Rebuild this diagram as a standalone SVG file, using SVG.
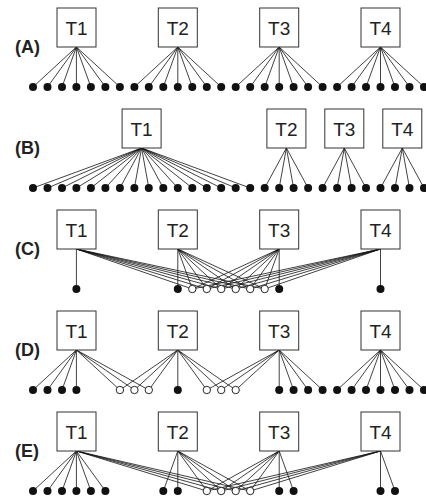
<svg xmlns="http://www.w3.org/2000/svg" width="426" height="500" viewBox="0 0 426 500">
<style>
.box{fill:#fff;stroke:#333;stroke-width:1}
.t{font-family:"Liberation Sans",Arial,sans-serif;font-size:19px;fill:#222;text-anchor:middle}
.lbl{font-family:"Liberation Sans",Arial,sans-serif;font-size:18px;font-weight:bold;fill:#222}
.e line{stroke:#111;stroke-width:0.8}
.f{fill:#111}
.o{fill:#fff;stroke:#111;stroke-width:0.9}
</style>
<rect width="426" height="500" fill="#fff"/>
<!-- Panel A -->
<g id="panelA">
<text class="lbl" x="15" y="53">(A)</text>
<g id="connA" class="e">
<line x1="76.4" y1="47" x2="33" y2="87"/><line x1="76.4" y1="47" x2="47.5" y2="87"/><line x1="76.4" y1="47" x2="62" y2="87"/><line x1="76.4" y1="47" x2="76.4" y2="87"/><line x1="76.4" y1="47" x2="90.9" y2="87"/><line x1="76.4" y1="47" x2="105.4" y2="87"/><line x1="76.4" y1="47" x2="119.9" y2="87"/>
<line x1="177.8" y1="47" x2="134.4" y2="87"/><line x1="177.8" y1="47" x2="148.8" y2="87"/><line x1="177.8" y1="47" x2="163.3" y2="87"/><line x1="177.8" y1="47" x2="177.8" y2="87"/><line x1="177.8" y1="47" x2="192.3" y2="87"/><line x1="177.8" y1="47" x2="206.8" y2="87"/><line x1="177.8" y1="47" x2="221.2" y2="87"/>
<line x1="279.2" y1="47" x2="235.7" y2="87"/><line x1="279.2" y1="47" x2="250.2" y2="87"/><line x1="279.2" y1="47" x2="264.7" y2="87"/><line x1="279.2" y1="47" x2="279.2" y2="87"/><line x1="279.2" y1="47" x2="293.6" y2="87"/><line x1="279.2" y1="47" x2="308.1" y2="87"/><line x1="279.2" y1="47" x2="322.6" y2="87"/>
<line x1="380.5" y1="47" x2="337.1" y2="87"/><line x1="380.5" y1="47" x2="351.6" y2="87"/><line x1="380.5" y1="47" x2="366" y2="87"/><line x1="380.5" y1="47" x2="380.5" y2="87"/><line x1="380.5" y1="47" x2="395" y2="87"/><line x1="380.5" y1="47" x2="409.5" y2="87"/><line x1="380.5" y1="47" x2="424" y2="87"/>
</g>
<g id="A_T1"><rect class="box" x="57" y="8" width="39" height="39"/><text class="t" x="76.5" y="35">T1</text></g>
<g id="A_T2"><rect class="box" x="158.3" y="8" width="39" height="39"/><text class="t" x="177.8" y="35">T2</text></g>
<g id="A_T3"><rect class="box" x="259.7" y="8" width="39" height="39"/><text class="t" x="279.2" y="35">T3</text></g>
<g id="A_T4"><rect class="box" x="361" y="8" width="39" height="39"/><text class="t" x="380.5" y="35">T4</text></g>
<g id="A_dots" class="f">
<circle cx="33" cy="87" r="4"/><circle cx="47.5" cy="87" r="4"/><circle cx="62" cy="87" r="4"/><circle cx="76.4" cy="87" r="4"/><circle cx="90.9" cy="87" r="4"/><circle cx="105.4" cy="87" r="4"/><circle cx="119.9" cy="87" r="4"/>
<circle cx="134.4" cy="87" r="4"/><circle cx="148.8" cy="87" r="4"/><circle cx="163.3" cy="87" r="4"/><circle cx="177.8" cy="87" r="4"/><circle cx="192.3" cy="87" r="4"/><circle cx="206.8" cy="87" r="4"/><circle cx="221.2" cy="87" r="4"/>
<circle cx="235.7" cy="87" r="4"/><circle cx="250.2" cy="87" r="4"/><circle cx="264.7" cy="87" r="4"/><circle cx="279.2" cy="87" r="4"/><circle cx="293.6" cy="87" r="4"/><circle cx="308.1" cy="87" r="4"/><circle cx="322.6" cy="87" r="4"/>
<circle cx="337.1" cy="87" r="4"/><circle cx="351.6" cy="87" r="4"/><circle cx="366" cy="87" r="4"/><circle cx="380.5" cy="87" r="4"/><circle cx="395" cy="87" r="4"/><circle cx="409.5" cy="87" r="4"/><circle cx="424" cy="87" r="4"/>
</g>
</g>
<!-- Panel B -->
<g id="panelB">
<text class="lbl" x="15" y="154">(B)</text>
<g id="connB" class="e">
<line x1="141.6" y1="148" x2="33" y2="188"/><line x1="141.6" y1="148" x2="47.5" y2="188"/><line x1="141.6" y1="148" x2="62" y2="188"/><line x1="141.6" y1="148" x2="76.4" y2="188"/><line x1="141.6" y1="148" x2="90.9" y2="188"/><line x1="141.6" y1="148" x2="105.4" y2="188"/><line x1="141.6" y1="148" x2="119.9" y2="188"/><line x1="141.6" y1="148" x2="134.4" y2="188"/>
<line x1="141.6" y1="148" x2="148.8" y2="188"/><line x1="141.6" y1="148" x2="163.3" y2="188"/><line x1="141.6" y1="148" x2="177.8" y2="188"/><line x1="141.6" y1="148" x2="192.3" y2="188"/><line x1="141.6" y1="148" x2="206.8" y2="188"/><line x1="141.6" y1="148" x2="221.2" y2="188"/><line x1="141.6" y1="148" x2="235.7" y2="188"/><line x1="141.6" y1="148" x2="250.2" y2="188"/>
<line x1="286.4" y1="148" x2="264.7" y2="188"/><line x1="286.4" y1="148" x2="279.2" y2="188"/><line x1="286.4" y1="148" x2="293.6" y2="188"/><line x1="286.4" y1="148" x2="308.1" y2="188"/>
<line x1="344.3" y1="148" x2="322.6" y2="188"/><line x1="344.3" y1="148" x2="337.1" y2="188"/><line x1="344.3" y1="148" x2="351.6" y2="188"/><line x1="344.3" y1="148" x2="366" y2="188"/>
<line x1="402.3" y1="148" x2="380.5" y2="188"/><line x1="402.3" y1="148" x2="395" y2="188"/><line x1="402.3" y1="148" x2="409.5" y2="188"/><line x1="402.3" y1="148" x2="424" y2="188"/>
</g>
<g id="B_T1"><rect class="box" x="122.1" y="109" width="39" height="39"/><text class="t" x="141.6" y="136">T1</text></g>
<g id="B_T2"><rect class="box" x="266.9" y="109" width="39" height="39"/><text class="t" x="286.4" y="136">T2</text></g>
<g id="B_T3"><rect class="box" x="324.8" y="109" width="39" height="39"/><text class="t" x="344.3" y="136">T3</text></g>
<g id="B_T4"><rect class="box" x="382.8" y="109" width="39" height="39"/><text class="t" x="402.3" y="136">T4</text></g>
<g id="B_dots" class="f">
<circle cx="33" cy="188" r="4"/><circle cx="47.5" cy="188" r="4"/><circle cx="62" cy="188" r="4"/><circle cx="76.4" cy="188" r="4"/><circle cx="90.9" cy="188" r="4"/><circle cx="105.4" cy="188" r="4"/><circle cx="119.9" cy="188" r="4"/>
<circle cx="134.4" cy="188" r="4"/><circle cx="148.8" cy="188" r="4"/><circle cx="163.3" cy="188" r="4"/><circle cx="177.8" cy="188" r="4"/><circle cx="192.3" cy="188" r="4"/><circle cx="206.8" cy="188" r="4"/><circle cx="221.2" cy="188" r="4"/>
<circle cx="235.7" cy="188" r="4"/><circle cx="250.2" cy="188" r="4"/><circle cx="264.7" cy="188" r="4"/><circle cx="279.2" cy="188" r="4"/><circle cx="293.6" cy="188" r="4"/><circle cx="308.1" cy="188" r="4"/><circle cx="322.6" cy="188" r="4"/>
<circle cx="337.1" cy="188" r="4"/><circle cx="351.6" cy="188" r="4"/><circle cx="366" cy="188" r="4"/><circle cx="380.5" cy="188" r="4"/><circle cx="395" cy="188" r="4"/><circle cx="409.5" cy="188" r="4"/><circle cx="424" cy="188" r="4"/>
</g>
</g>
<!-- Panel C -->
<g id="panelC">
<text class="lbl" x="15" y="255">(C)</text>
<g id="connC" class="e">
<line x1="76.4" y1="249" x2="76.4" y2="289"/><line x1="76.4" y1="249" x2="192.3" y2="289"/><line x1="76.4" y1="249" x2="206.8" y2="289"/><line x1="76.4" y1="249" x2="221.2" y2="289"/><line x1="76.4" y1="249" x2="235.7" y2="289"/><line x1="76.4" y1="249" x2="250.2" y2="289"/><line x1="76.4" y1="249" x2="264.7" y2="289"/>
<line x1="177.8" y1="249" x2="177.8" y2="289"/><line x1="177.8" y1="249" x2="192.3" y2="289"/><line x1="177.8" y1="249" x2="206.8" y2="289"/><line x1="177.8" y1="249" x2="221.2" y2="289"/><line x1="177.8" y1="249" x2="235.7" y2="289"/><line x1="177.8" y1="249" x2="250.2" y2="289"/><line x1="177.8" y1="249" x2="264.7" y2="289"/>
<line x1="279.2" y1="249" x2="279.2" y2="289"/><line x1="279.2" y1="249" x2="192.3" y2="289"/><line x1="279.2" y1="249" x2="206.8" y2="289"/><line x1="279.2" y1="249" x2="221.2" y2="289"/><line x1="279.2" y1="249" x2="235.7" y2="289"/><line x1="279.2" y1="249" x2="250.2" y2="289"/><line x1="279.2" y1="249" x2="264.7" y2="289"/>
<line x1="380.5" y1="249" x2="380.5" y2="289"/><line x1="380.5" y1="249" x2="192.3" y2="289"/><line x1="380.5" y1="249" x2="206.8" y2="289"/><line x1="380.5" y1="249" x2="221.2" y2="289"/><line x1="380.5" y1="249" x2="235.7" y2="289"/><line x1="380.5" y1="249" x2="250.2" y2="289"/><line x1="380.5" y1="249" x2="264.7" y2="289"/>
</g>
<g id="C_T1"><rect class="box" x="57" y="210" width="39" height="39"/><text class="t" x="76.5" y="237">T1</text></g>
<g id="C_T2"><rect class="box" x="158.3" y="210" width="39" height="39"/><text class="t" x="177.8" y="237">T2</text></g>
<g id="C_T3"><rect class="box" x="259.7" y="210" width="39" height="39"/><text class="t" x="279.2" y="237">T3</text></g>
<g id="C_T4"><rect class="box" x="361" y="210" width="39" height="39"/><text class="t" x="380.5" y="237">T4</text></g>
<g id="C_dots">
<circle class="f" cx="76.4" cy="289" r="4"/><circle class="f" cx="177.8" cy="289" r="4"/><circle class="f" cx="279.2" cy="289" r="4"/><circle class="f" cx="380.5" cy="289" r="4"/>
<circle class="o" cx="192.3" cy="289" r="3.7"/><circle class="o" cx="206.8" cy="289" r="3.7"/><circle class="o" cx="221.2" cy="289" r="3.7"/><circle class="o" cx="235.7" cy="289" r="3.7"/><circle class="o" cx="250.2" cy="289" r="3.7"/><circle class="o" cx="264.7" cy="289" r="3.7"/>
</g>
</g>
<!-- Panel D -->
<g id="panelD">
<text class="lbl" x="15" y="356">(D)</text>
<g id="connD" class="e">
<line x1="76.4" y1="350" x2="33" y2="390"/><line x1="76.4" y1="350" x2="47.5" y2="390"/><line x1="76.4" y1="350" x2="62" y2="390"/><line x1="76.4" y1="350" x2="76.4" y2="390"/><line x1="76.4" y1="350" x2="119.9" y2="390"/><line x1="76.4" y1="350" x2="134.4" y2="390"/><line x1="76.4" y1="350" x2="148.8" y2="390"/>
<line x1="177.8" y1="350" x2="119.9" y2="390"/><line x1="177.8" y1="350" x2="134.4" y2="390"/><line x1="177.8" y1="350" x2="148.8" y2="390"/><line x1="177.8" y1="350" x2="177.8" y2="390"/><line x1="177.8" y1="350" x2="206.8" y2="390"/><line x1="177.8" y1="350" x2="221.2" y2="390"/><line x1="177.8" y1="350" x2="235.7" y2="390"/>
<line x1="279.2" y1="350" x2="206.8" y2="390"/><line x1="279.2" y1="350" x2="221.2" y2="390"/><line x1="279.2" y1="350" x2="235.7" y2="390"/><line x1="279.2" y1="350" x2="279.2" y2="390"/><line x1="279.2" y1="350" x2="293.6" y2="390"/><line x1="279.2" y1="350" x2="308.1" y2="390"/><line x1="279.2" y1="350" x2="322.6" y2="390"/>
<line x1="380.5" y1="350" x2="337.1" y2="390"/><line x1="380.5" y1="350" x2="351.6" y2="390"/><line x1="380.5" y1="350" x2="366" y2="390"/><line x1="380.5" y1="350" x2="380.5" y2="390"/><line x1="380.5" y1="350" x2="395" y2="390"/><line x1="380.5" y1="350" x2="409.5" y2="390"/><line x1="380.5" y1="350" x2="424" y2="390"/>
</g>
<g id="D_T1"><rect class="box" x="57" y="311" width="39" height="39"/><text class="t" x="76.5" y="338">T1</text></g>
<g id="D_T2"><rect class="box" x="158.3" y="311" width="39" height="39"/><text class="t" x="177.8" y="338">T2</text></g>
<g id="D_T3"><rect class="box" x="259.7" y="311" width="39" height="39"/><text class="t" x="279.2" y="338">T3</text></g>
<g id="D_T4"><rect class="box" x="361" y="311" width="39" height="39"/><text class="t" x="380.5" y="338">T4</text></g>
<g id="D_dots">
<circle class="f" cx="33" cy="390" r="4"/><circle class="f" cx="47.5" cy="390" r="4"/><circle class="f" cx="62" cy="390" r="4"/><circle class="f" cx="76.4" cy="390" r="4"/>
<circle class="o" cx="119.9" cy="390" r="3.7"/><circle class="o" cx="134.4" cy="390" r="3.7"/><circle class="o" cx="148.8" cy="390" r="3.7"/>
<circle class="f" cx="177.8" cy="390" r="4"/>
<circle class="o" cx="206.8" cy="390" r="3.7"/><circle class="o" cx="221.2" cy="390" r="3.7"/><circle class="o" cx="235.7" cy="390" r="3.7"/>
<circle class="f" cx="279.2" cy="390" r="4"/><circle class="f" cx="293.6" cy="390" r="4"/><circle class="f" cx="308.1" cy="390" r="4"/><circle class="f" cx="322.6" cy="390" r="4"/>
<circle class="f" cx="337.1" cy="390" r="4"/><circle class="f" cx="351.6" cy="390" r="4"/><circle class="f" cx="366" cy="390" r="4"/><circle class="f" cx="380.5" cy="390" r="4"/><circle class="f" cx="395" cy="390" r="4"/><circle class="f" cx="409.5" cy="390" r="4"/><circle class="f" cx="424" cy="390" r="4"/>
</g>
</g>
<!-- Panel E -->
<g id="panelE">
<text class="lbl" x="15" y="457">(E)</text>
<g id="connE" class="e">
<line x1="76.4" y1="451" x2="33" y2="491"/><line x1="76.4" y1="451" x2="47.5" y2="491"/><line x1="76.4" y1="451" x2="62" y2="491"/><line x1="76.4" y1="451" x2="76.4" y2="491"/><line x1="76.4" y1="451" x2="90.9" y2="491"/><line x1="76.4" y1="451" x2="105.4" y2="491"/>
<line x1="76.4" y1="451" x2="206.8" y2="491"/><line x1="76.4" y1="451" x2="221.2" y2="491"/><line x1="76.4" y1="451" x2="235.7" y2="491"/><line x1="76.4" y1="451" x2="250.2" y2="491"/>
<line x1="177.8" y1="451" x2="163.3" y2="491"/><line x1="177.8" y1="451" x2="177.8" y2="491"/><line x1="177.8" y1="451" x2="206.8" y2="491"/><line x1="177.8" y1="451" x2="221.2" y2="491"/><line x1="177.8" y1="451" x2="235.7" y2="491"/><line x1="177.8" y1="451" x2="250.2" y2="491"/>
<line x1="279.2" y1="451" x2="206.8" y2="491"/><line x1="279.2" y1="451" x2="221.2" y2="491"/><line x1="279.2" y1="451" x2="235.7" y2="491"/><line x1="279.2" y1="451" x2="250.2" y2="491"/><line x1="279.2" y1="451" x2="279.2" y2="491"/><line x1="279.2" y1="451" x2="293.6" y2="491"/>
<line x1="380.5" y1="451" x2="206.8" y2="491"/><line x1="380.5" y1="451" x2="221.2" y2="491"/><line x1="380.5" y1="451" x2="235.7" y2="491"/><line x1="380.5" y1="451" x2="250.2" y2="491"/><line x1="380.5" y1="451" x2="380.5" y2="491"/><line x1="380.5" y1="451" x2="395" y2="491"/>
</g>
<g id="E_T1"><rect class="box" x="57" y="412" width="39" height="39"/><text class="t" x="76.5" y="439">T1</text></g>
<g id="E_T2"><rect class="box" x="158.3" y="412" width="39" height="39"/><text class="t" x="177.8" y="439">T2</text></g>
<g id="E_T3"><rect class="box" x="259.7" y="412" width="39" height="39"/><text class="t" x="279.2" y="439">T3</text></g>
<g id="E_T4"><rect class="box" x="361" y="412" width="39" height="39"/><text class="t" x="380.5" y="439">T4</text></g>
<g id="E_dots">
<circle class="f" cx="33" cy="491" r="4"/><circle class="f" cx="47.5" cy="491" r="4"/><circle class="f" cx="62" cy="491" r="4"/><circle class="f" cx="76.4" cy="491" r="4"/><circle class="f" cx="90.9" cy="491" r="4"/><circle class="f" cx="105.4" cy="491" r="4"/>
<circle class="f" cx="163.3" cy="491" r="4"/><circle class="f" cx="177.8" cy="491" r="4"/>
<circle class="o" cx="206.8" cy="491" r="3.7"/><circle class="o" cx="221.2" cy="491" r="3.7"/><circle class="o" cx="235.7" cy="491" r="3.7"/><circle class="o" cx="250.2" cy="491" r="3.7"/>
<circle class="f" cx="279.2" cy="491" r="4"/><circle class="f" cx="293.6" cy="491" r="4"/>
<circle class="f" cx="380.5" cy="491" r="4"/><circle class="f" cx="395" cy="491" r="4"/>
</g>
</g>
</svg>
